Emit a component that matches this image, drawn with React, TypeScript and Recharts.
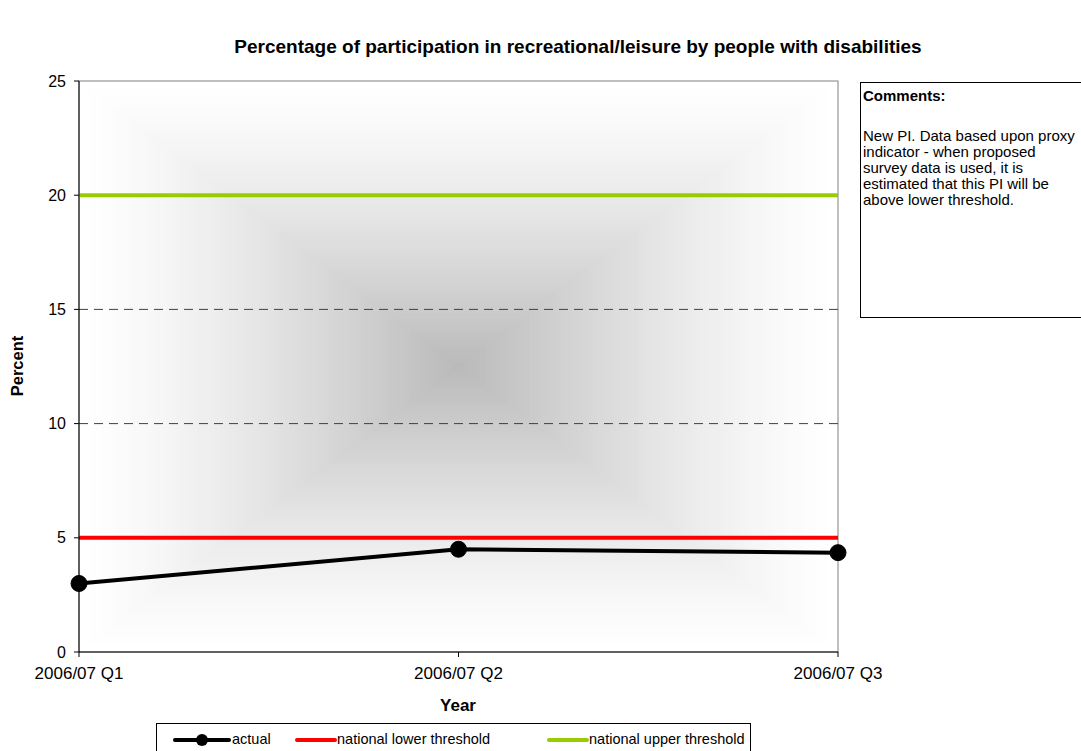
import React from "react";
import { LineChart, Line, XAxis, YAxis, CartesianGrid } from "recharts";

const categories = ["2006/07 Q1", "2006/07 Q2", "2006/07 Q3"];
const actual = [3.0, 4.5, 4.35];
const lowerThreshold = [5, 5, 5];
const upperThreshold = [20, 20, 20];
const yTicks = [0, 5, 10, 15, 20, 25];
const gridValues = [10, 15];

const data = categories.map((c, i) => ({
  name: c,
  actual: actual[i],
  lower: lowerThreshold[i],
  upper: upperThreshold[i],
}));

const W = 1081;
const H = 751;
const PLOT = { left: 79, top: 81, right: 838, bottom: 652 };
const Y_AXIS_W = 60;
const X_AXIS_H = 30;
const M = {
  top: PLOT.top,
  right: W - PLOT.right,
  bottom: H - PLOT.bottom - X_AXIS_H,
  left: PLOT.left - Y_AXIS_W,
};
const FONT = '"Liberation Sans", Arial, sans-serif';

function Background() {
  const x0 = PLOT.left, y0 = PLOT.top, x1 = PLOT.right, y1 = PLOT.bottom;
  const cx = (x0 + x1) / 2, cy = (y0 + y1) / 2;
  const hw = (x1 - x0) / 2, hh = (y1 - y0) / 2;
  const steps = 70;
  const rects = [];
  for (let i = 0; i < steps; i++) {
    const t = 1 - i / steps;
    const g = Math.round(185 + 70 * (1 - Math.pow(1 - t, 1.3)));
    rects.push(
      <rect
        key={i}
        x={cx - hw * t}
        y={cy - hh * t}
        width={2 * hw * t}
        height={2 * hh * t}
        fill={`rgb(${g},${g},${g})`}
      />
    );
  }
  return (
    <svg width={W} height={H} style={{ position: "absolute", left: 0, top: 0 }}>
      {rects}
      <rect x={x0} y={y0} width={x1 - x0} height={y1 - y0} fill="none" stroke="#808080" strokeWidth={1} />
    </svg>
  );
}

function LegendBox() {
  const sym = (left: number, width: number, color: string, dot: boolean) => (
    <svg width={width} height={14} style={{ position: "absolute", left, top: 9 }}>
      <line x1={2} y1={7} x2={width - 2} y2={7} stroke={color} strokeWidth={4} strokeLinecap="round" />
      {dot && <circle cx={width / 2} cy={7} r={6} fill={color} />}
    </svg>
  );
  const label = (left: number, text: string) => (
    <span style={{ position: "absolute", left, top: 7, whiteSpace: "nowrap", lineHeight: "17px" }}>{text}</span>
  );
  return (
    <div
      style={{
        position: "absolute",
        left: 156,
        top: 723,
        width: 595,
        height: 40,
        border: "1px solid #000",
        boxSizing: "border-box",
        background: "#fff",
        fontFamily: FONT,
        fontSize: 14.5,
        color: "#000",
      }}
    >
      {sym(16, 58, "#000000", true)}
      {label(75, "actual")}
      {sym(138, 42, "#ff0000", false)}
      {label(180, "national lower threshold")}
      {sym(390, 42, "#99cc00", false)}
      {label(432, "national upper threshold")}
    </div>
  );
}

export default function App() {
  return (
    <div style={{ position: "absolute", left: 0, top: 0, width: W, height: H, background: "#fff", overflow: "hidden", fontFamily: FONT }}>
      <Background />
      <div style={{ position: "absolute", left: 0, top: 0 }}>
        <LineChart width={W} height={H} data={data} margin={M}>
          <CartesianGrid vertical={false} horizontal horizontalValues={gridValues} stroke="#404040" strokeDasharray="9 6" />
          <XAxis
            dataKey="name"
            height={X_AXIS_H}
            axisLine={{ stroke: "#000" }}
            tickLine={{ stroke: "#000" }}
            tickSize={5}
            tick={{ fill: "#000", fontSize: 17, fontFamily: FONT }}
            tickMargin={10}
            interval={0}
          />
          <YAxis
            domain={[0, 25]}
            ticks={yTicks}
            width={Y_AXIS_W}
            axisLine={{ stroke: "#000" }}
            tickLine={{ stroke: "#000" }}
            tickSize={5}
            tick={{ fill: "#000", fontSize: 16, fontFamily: FONT }}
            tickMargin={8}
          />
          <Line dataKey="lower" stroke="#ff0000" strokeWidth={4} dot={false} isAnimationActive={false} />
          <Line dataKey="upper" stroke="#99cc00" strokeWidth={4} dot={false} isAnimationActive={false} />
          <Line dataKey="actual" stroke="#000000" strokeWidth={4} dot={{ r: 8, fill: "#000", stroke: "#000", strokeWidth: 1 }} isAnimationActive={false} />
        </LineChart>
      </div>
      <div
        style={{
          position: "absolute",
          left: 578,
          top: 36,
          transform: "translateX(-50%)",
          whiteSpace: "nowrap",
          fontWeight: "bold",
          fontSize: 19,
          color: "#000",
        }}
      >
        Percentage of participation in recreational/leisure by people with disabilities
      </div>
      <div
        style={{
          position: "absolute",
          left: 17,
          top: 366,
          transform: "translate(-50%, -50%) rotate(-90deg)",
          whiteSpace: "nowrap",
          fontWeight: "bold",
          fontSize: 16.5,
          color: "#000",
        }}
      >
        Percent
      </div>
      <div
        style={{
          position: "absolute",
          left: 458,
          top: 706,
          transform: "translate(-50%, -50%)",
          whiteSpace: "nowrap",
          fontWeight: "bold",
          fontSize: 17,
          color: "#000",
        }}
      >
        Year
      </div>
      <LegendBox />
      <div
        style={{
          position: "absolute",
          left: 860,
          top: 82,
          width: 240,
          height: 236,
          border: "1px solid #000",
          boxSizing: "border-box",
          background: "#fff",
          padding: "5px 0 0 2px",
          fontSize: 15,
          lineHeight: "16px",
          color: "#000",
        }}
      >
        <div style={{ fontWeight: "bold" }}>Comments:</div>
        <div style={{ height: 24 }} />
        <div style={{ width: 216 }}>
          New PI. Data based upon proxy indicator - when proposed survey data is used, it is estimated that this PI will be above lower threshold.
        </div>
      </div>
    </div>
  );
}
